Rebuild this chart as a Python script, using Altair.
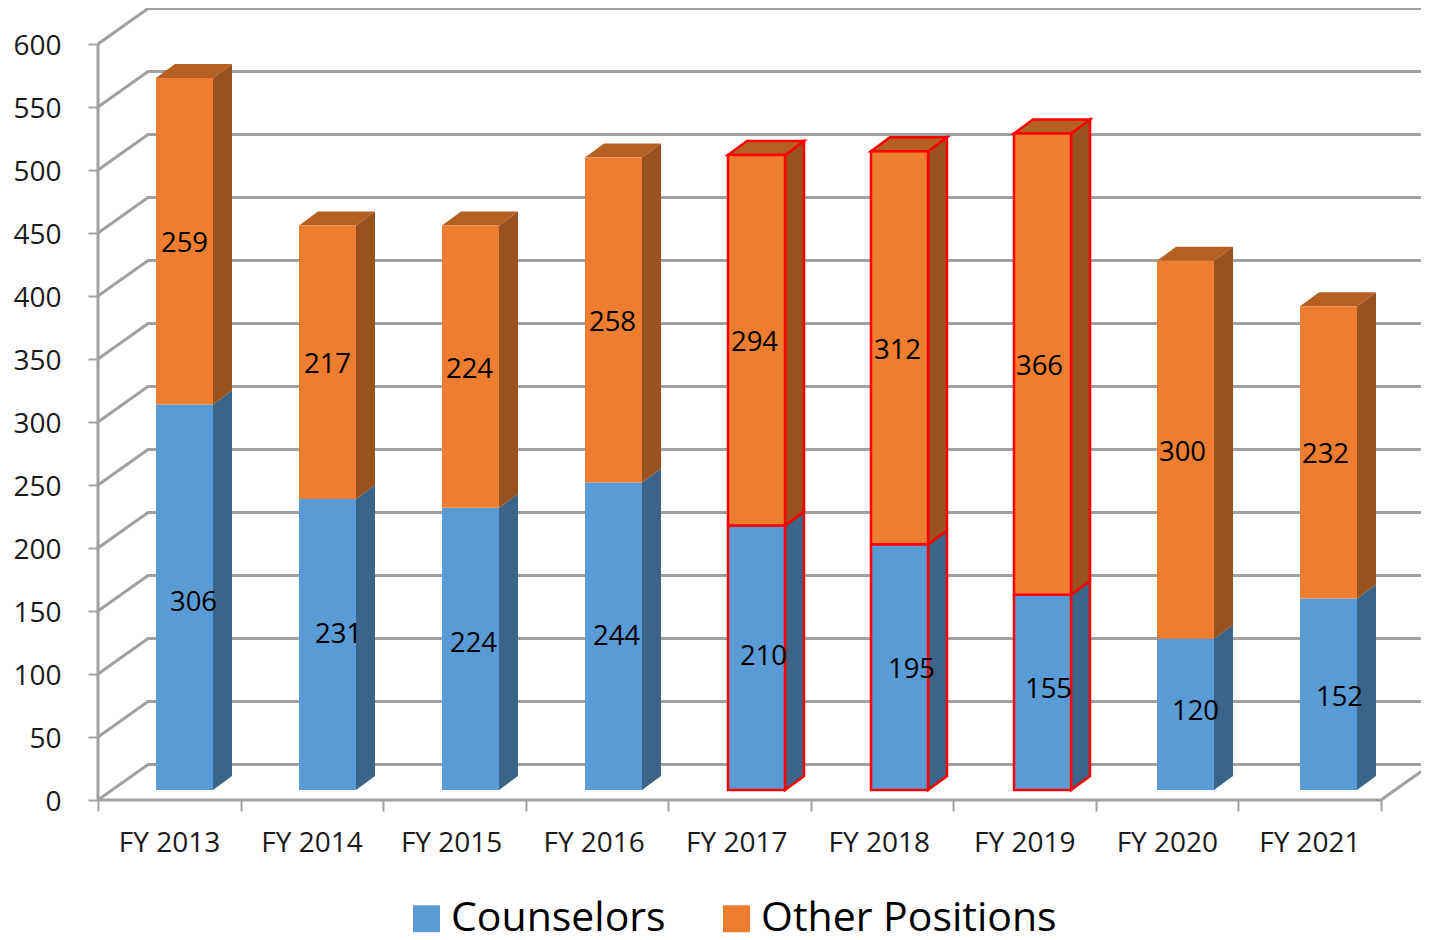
import json
import altair as alt
import pandas as pd

years = ["FY 2013", "FY 2014", "FY 2015", "FY 2016", "FY 2017", "FY 2018", "FY 2019", "FY 2020", "FY 2021"]
counselors = [306, 231, 224, 244, 210, 195, 155, 120, 152]
others = [259, 217, 224, 258, 294, 312, 366, 300, 232]
highlighted = ["FY 2017", "FY 2018", "FY 2019"]
y_ticks = list(range(0, 601, 50))

# Hand-placed data-label nudges (pixels), as in the source chart
blue_nudge_x = [9, 11, 3, 3, 7, 12, 6, 10, 11]
blue_nudge_y = [6, -9, -5, 1, -1, 3, -2, -2, 4]
orange_nudge_x = [0, 0, -1, -1, -2, -2, -3, -3, -3]
orange_nudge_y = [3] * 9

PX_X = 142.55
PX_Y = 1.26
W, H = 1323, 792
xs = alt.Scale(domain=[0, W / PX_X], range=[0, W], nice=False, zero=False)
ys = alt.Scale(domain=[0, H / PX_Y], range=[H, 0], nice=False, zero=False)

step, left0, bw = 143 / PX_X, 58 / PX_X, 57 / PX_X
dx, dy = 19 / PX_X, 14 / PX_Y
base = 10 / PX_Y
wall_dx, wall_dy = 50 / PX_X, 28.2

BLUE, ORANGE = "#5B9BD5", "#ED7D31"
BLUE_SIDE, ORANGE_SIDE, ORANGE_TOP = "#3A6488", "#99511E", "#B55F22"
GRID = "#A0A0A0"
RED = "#FF0000"
FONT = "Open Sans"

fronts, sides, tops, labels = [], [], [], []
for i, yr in enumerate(years):
    x0 = left0 + i * step
    x1 = x0 + bw
    edge = yr in highlighted
    c, o = counselors[i], others[i]
    fronts.append(dict(series="Counselors", x=x0, x2=x1, y=base, y2=base + c, edge=edge))
    fronts.append(dict(series="Other Positions", x=x0, x2=x1, y=base + c, y2=base + c + o, edge=edge))
    for name, lo, hi, col in [("b", base, base + c, BLUE_SIDE), ("o", base + c, base + c + o, ORANGE_SIDE)]:
        sides.append(dict(id=f"{yr}{name}", x=x1, y=lo, y2=hi, fill=col, edge=edge))
        sides.append(dict(id=f"{yr}{name}", x=x1 + dx, y=lo + dy, y2=hi + dy, fill=col, edge=edge))
    t = base + c + o
    for px, lo, hi in [(x0, t, t), (x0 + dx, t, t + dy), (x1, t, t + dy), (x1 + dx, t + dy, t + dy)]:
        tops.append(dict(id=f"{yr}t", x=px, y=lo, y2=hi, fill=ORANGE_TOP, edge=edge))
    mid = (x0 + x1) / 2
    labels.append(dict(x=mid, y=base + c / 2, text=str(c), nx=blue_nudge_x[i], ny=blue_nudge_y[i]))
    labels.append(dict(x=mid, y=base + c + o / 2, text=str(o), nx=orange_nudge_x[i], ny=orange_nudge_y[i]))

grid = []
for v in y_ticks:
    for x, y in [(0, v), (wall_dx, v + wall_dy), (W / PX_X + 1, v + wall_dy)]:
        grid.append(dict(id=f"g{v}", x=x, y=y))
end = len(years) * 1.0
for x, y in [(0, 0), (end, 0), (end + wall_dx, wall_dy)]:
    grid.append(dict(id="floor", x=x, y=y))
# left wall's front edge
left_edge = pd.DataFrame({"x": [0, 0], "y": [0, max(y_ticks)]})

X = alt.X(
    "x:Q", scale=xs, title=None,
    axis=alt.Axis(
        values=list(range(len(years) + 1)), grid=False, domain=False,
        tickColor=GRID, tickWidth=2, tickSize=11,
        labelExpr=f"{json.dumps(years)}[datum.value] || ''",
        labelFont=FONT, labelFontSize=28, labelColor="#1a1a1a",
        labelOffset={"condition": {"test": "datum.value >= 2 && datum.value <= 5", "value": 68}, "value": 71},
        labelPadding=18, labelOverlap=False,
        labelFlush=False, labelBound=False,
    ),
)
Y = alt.Y(
    "y:Q", scale=ys, title=None,
    axis=alt.Axis(
        values=y_ticks, grid=False, domain=False,
        tickColor=GRID, tickWidth=2, tickSize=10,
        labelFont=FONT, labelFontSize=28, labelColor="#1a1a1a", labelPadding=27,
        labelOffset=2, labelOverlap=False, labelFlush=False, labelBound=False,
    ),
)

grid_layer = (
    alt.Chart(pd.DataFrame(grid))
    .mark_line(color=GRID, strokeWidth=3)
    .encode(x=X, y=Y, detail="id:N", order="x:Q")
)
edge_layer = alt.Chart(left_edge).mark_line(color=GRID, strokeWidth=3).encode(x=X, y=Y, order="y:Q")


def faces(rows):
    out = []
    df = pd.DataFrame(rows)
    for (fill, edge), sub in df.groupby(["fill", "edge"]):
        style = dict(fill=fill, interpolate="linear")
        if edge:
            style.update(stroke=RED, strokeWidth=2.5)
        out.append(
            alt.Chart(sub[["id", "x", "y", "y2"]])
            .mark_area(**style)
            .encode(x=X, y=Y, y2="y2:Q", detail="id:N")
        )
    return out


front_df = pd.DataFrame(fronts)
front_layer = (
    alt.Chart(front_df)
    .mark_rect()
    .encode(
        x=X,
        x2="x2:Q",
        y=Y,
        y2="y2:Q",
        color=alt.Color(
            "series:N",
            scale=alt.Scale(domain=["Counselors", "Other Positions"], range=[BLUE, ORANGE]),
            legend=alt.Legend(
                title=None, orient="none", direction="horizontal",
                legendX=308, legendY=890,
                symbolType="square", symbolSize=729, symbolStrokeWidth=0, symbolOpacity=1,
                labelFont=FONT, labelFontSize=41, labelColor="#000000",
                labelOffset=4, columnPadding=50, labelLimit=500,
            ),
        ),
        stroke=alt.condition(alt.datum.edge, alt.value(RED), alt.value("transparent")),
        strokeWidth=alt.value(2.5),
    )
)

df_labels = pd.DataFrame(labels)
text_layers = []
for (nx, ny), sub in df_labels.groupby(["nx", "ny"]):
    text_layers.append(
        alt.Chart(sub[["x", "y", "text"]])
        .mark_text(font=FONT, fontSize=27.5, color="#000000", baseline="middle", align="center",
                   dx=int(nx), dy=int(ny))
        .encode(x=X, y=Y, text="text:N")
    )

chart = (
    alt.layer(grid_layer, edge_layer, *faces(sides), *faces(tops), front_layer, *text_layers)
    .properties(
        width=W,
        height=H,
        padding={"left": 90, "top": 0, "right": 0, "bottom": 146},
        autosize=alt.AutoSizeParams(type="none"),
    )
    .configure_view(stroke=None)
)

chart.save("out.html", embed_options={"renderer": "svg", "actions": False})
